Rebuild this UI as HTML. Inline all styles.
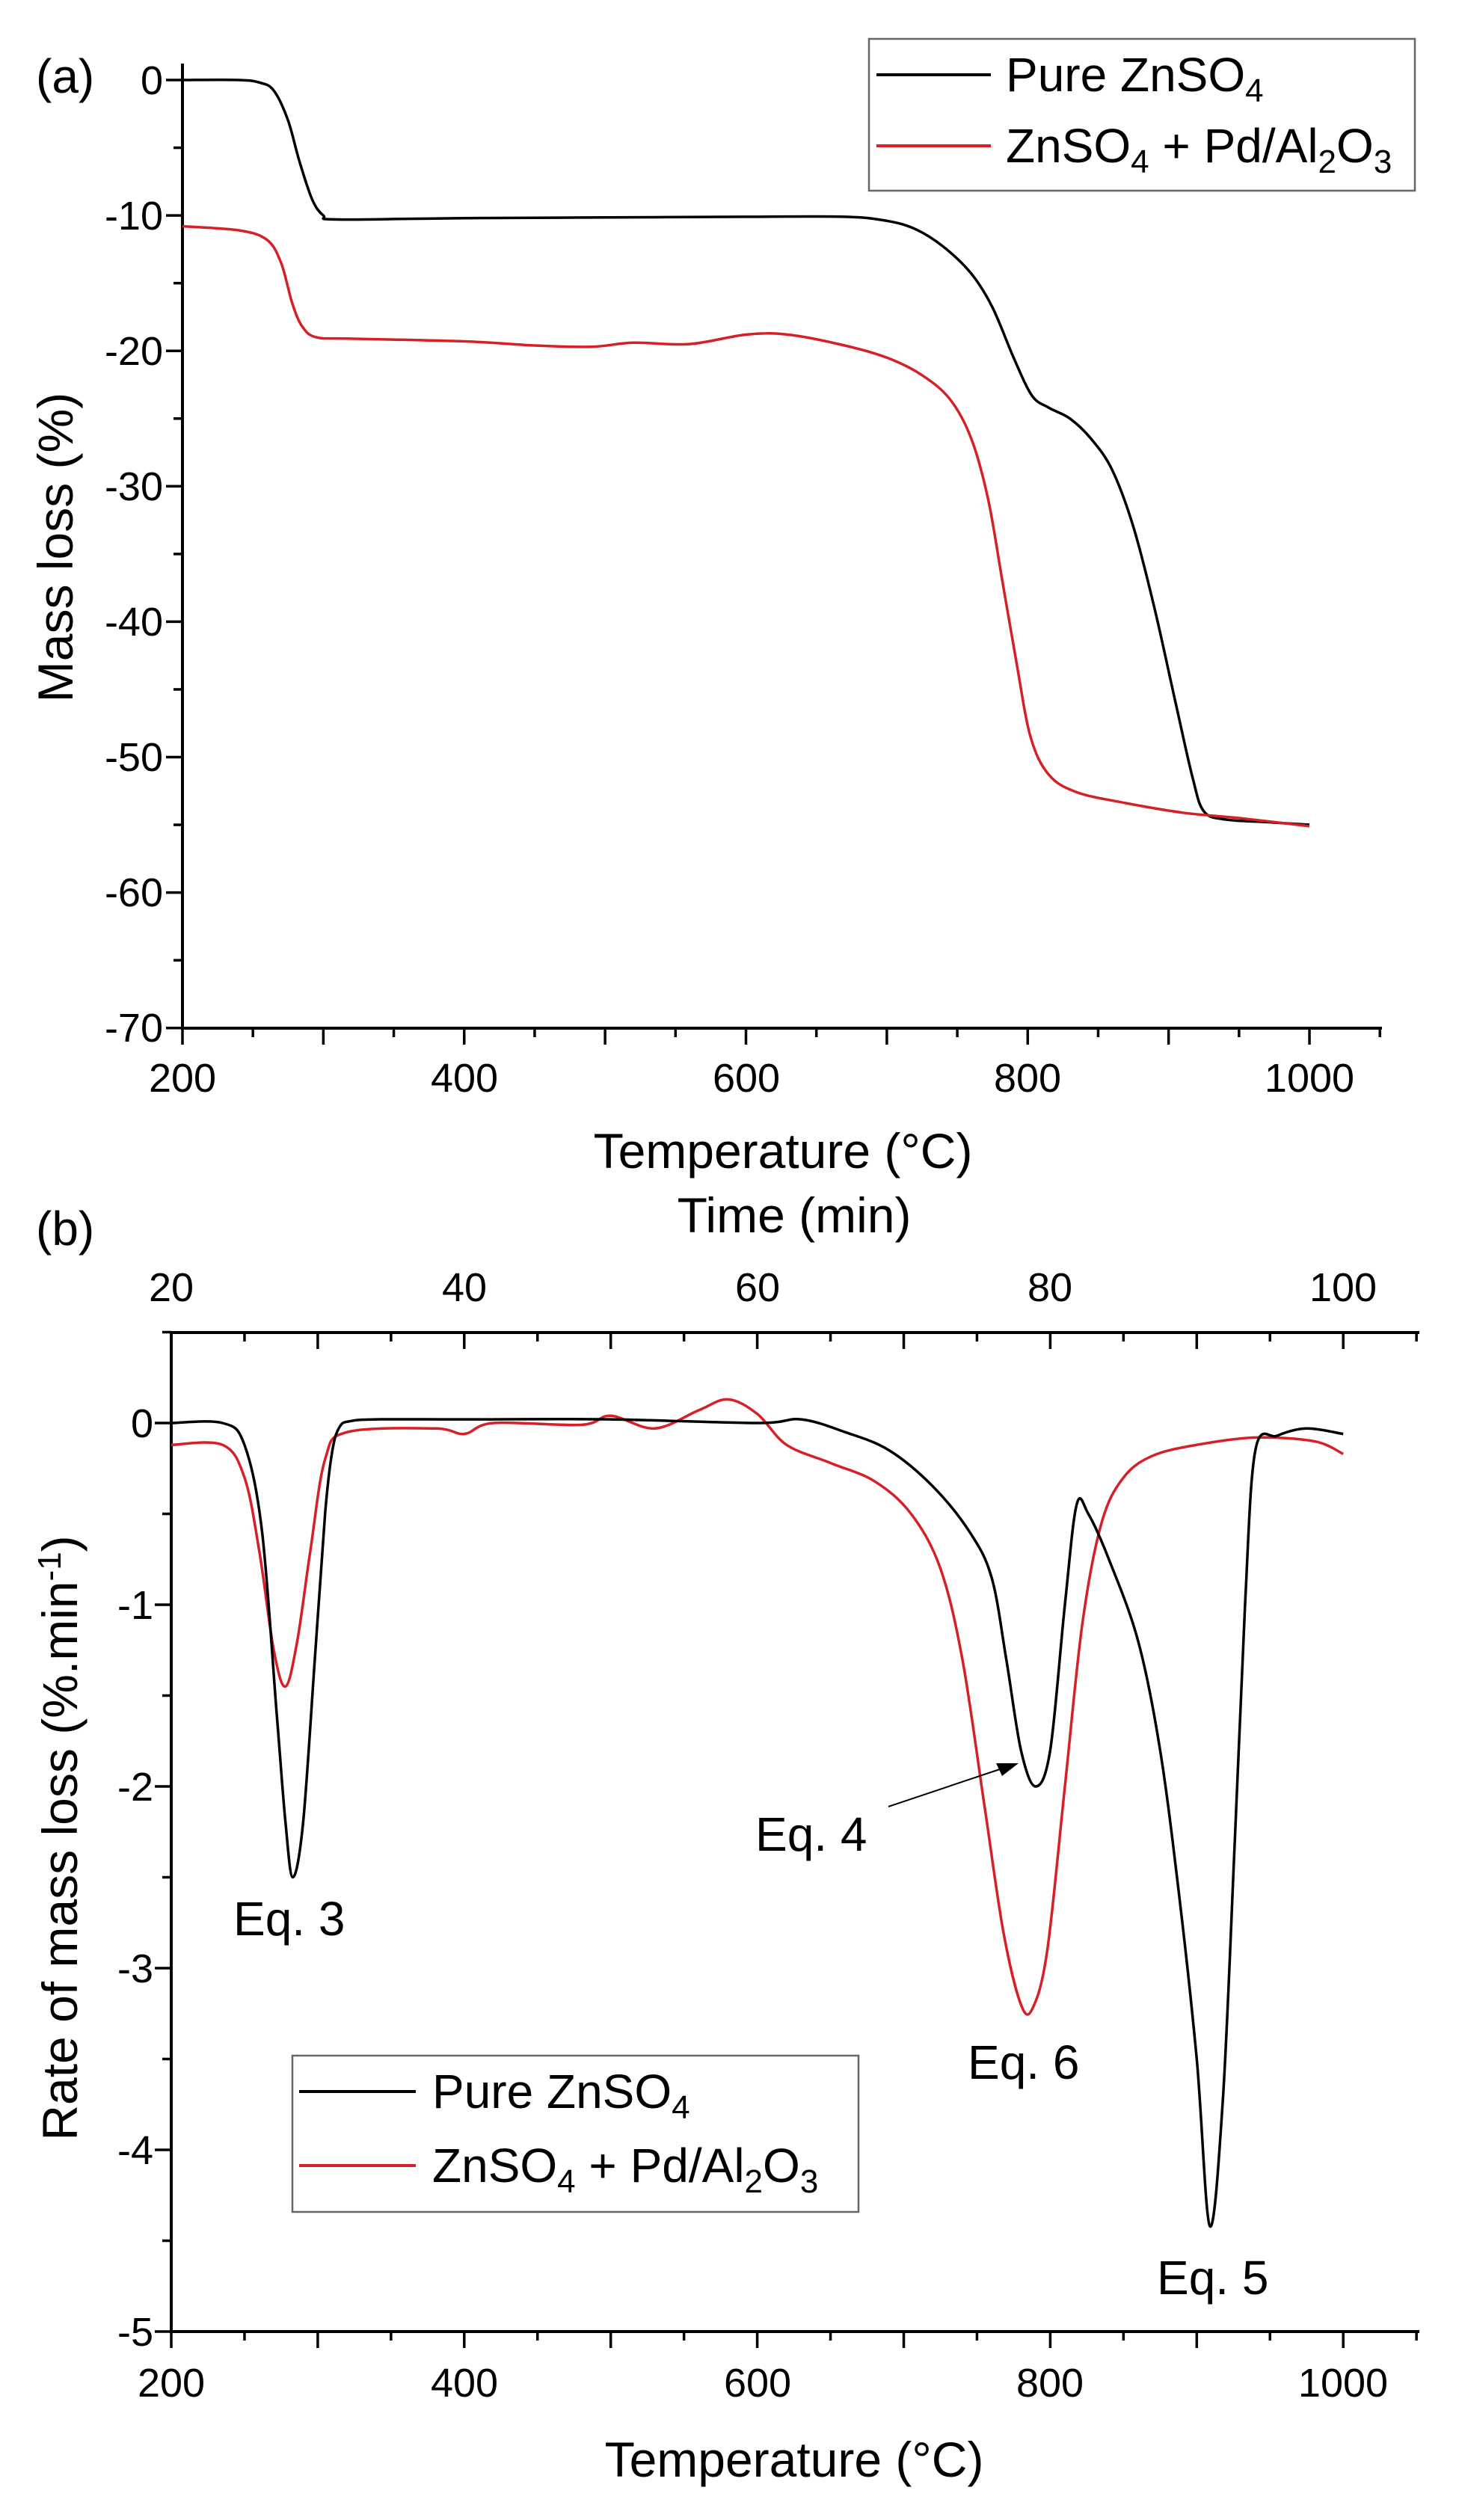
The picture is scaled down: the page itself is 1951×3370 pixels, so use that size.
<!DOCTYPE html>
<html><head><meta charset="utf-8"><style>
html,body{margin:0;padding:0;background:#fff}
svg{display:block}
text{font-family:"Liberation Sans",Arial,sans-serif;fill:#000}
</style></head><body>
<svg id="s" width="1951" height="3370" viewBox="0 0 1951 3370" xmlns="http://www.w3.org/2000/svg">
<g id="g"></g>
<text x="48" y="124" font-size="64">(a)</text>
<g font-size="54" text-anchor="end">
<text x="218" y="126">0</text><text x="218" y="307">-10</text><text x="218" y="488">-20</text>
<text x="218" y="669">-30</text><text x="218" y="850">-40</text><text x="218" y="1031">-50</text>
<text x="218" y="1212">-60</text><text x="218" y="1393">-70</text>
</g>
<g font-size="54" text-anchor="middle">
<text x="244" y="1460">200</text><text x="621" y="1460">400</text><text x="998" y="1460">600</text>
<text x="1374" y="1460">800</text><text x="1751" y="1460">1000</text>
</g>
<text x="1047" y="1562" font-size="66" text-anchor="middle">Temperature (°C)</text>
<text x="75" y="732" font-size="66" text-anchor="middle" transform="rotate(-90 75 732)" dy="22">Mass loss (%)</text>
<rect x="1162" y="52" width="730" height="203" fill="none" stroke="#666" stroke-width="2.5"/>
<line x1="1172" y1="100" x2="1325" y2="100" stroke="#000" stroke-width="4"/>
<line x1="1172" y1="195" x2="1325" y2="195" stroke="#d62027" stroke-width="4"/>
<text x="1345" y="122" font-size="64">Pure ZnSO<tspan font-size="44" dy="14">4</tspan></text>
<text x="1345" y="217" font-size="64">ZnSO<tspan font-size="44" dy="14">4</tspan><tspan dy="-14"> + Pd/Al</tspan><tspan font-size="44" dy="14">2</tspan><tspan dy="-14">O</tspan><tspan font-size="44" dy="14">3</tspan></text>
<text x="48" y="1665" font-size="64">(b)</text>
<text x="1062" y="1648" font-size="66" text-anchor="middle">Time (min)</text>
<g font-size="54" text-anchor="middle">
<text x="229" y="1740">20</text><text x="621" y="1740">40</text><text x="1013" y="1740">60</text>
<text x="1404" y="1740">80</text><text x="1796" y="1740">100</text>
<text x="229" y="3205">200</text><text x="621" y="3205">400</text><text x="1013" y="3205">600</text>
<text x="1404" y="3205">800</text><text x="1796" y="3205">1000</text>
</g>
<g font-size="54" text-anchor="end">
<text x="205" y="1922">0</text><text x="205" y="2165">-1</text><text x="205" y="2408">-2</text>
<text x="205" y="2651">-3</text><text x="205" y="2894">-4</text><text x="205" y="3137">-5</text>
</g>
<text x="1062" y="3312" font-size="66" text-anchor="middle">Temperature (°C)</text>
<text x="81" y="2458" font-size="66" text-anchor="middle" transform="rotate(-90 81 2458)" dy="22">Rate of mass loss (%.min<tspan font-size="44" dy="-22">-1</tspan><tspan dy="22">)</tspan></text>
<g font-size="64">
<text x="312" y="2588">Eq. 3</text>
<text x="1010" y="2475">Eq. 4</text>
<text x="1294" y="2780">Eq. 6</text>
<text x="1547" y="3068">Eq. 5</text>
</g>
<line x1="1188" y1="2416" x2="1340" y2="2365" stroke="#000" stroke-width="2"/>
<polygon points="1362,2358 1332,2358 1340,2375" fill="#000"/>
<rect x="391" y="2749" width="757" height="209" fill="#fff" stroke="#666" stroke-width="2.5"/>
<line x1="400" y1="2797" x2="556" y2="2797" stroke="#000" stroke-width="4"/>
<line x1="400" y1="2896" x2="556" y2="2896" stroke="#d62027" stroke-width="4"/>
<text x="578" y="2819" font-size="64">Pure ZnSO<tspan font-size="44" dy="14">4</tspan></text>
<text x="578" y="2918" font-size="64">ZnSO<tspan font-size="44" dy="14">4</tspan><tspan dy="-14"> + Pd/Al</tspan><tspan font-size="44" dy="14">2</tspan><tspan dy="-14">O</tspan><tspan font-size="44" dy="14">3</tspan></text>
</svg>
<script>
var g=document.getElementById('g'),NS='http://www.w3.org/2000/svg';
function el(t,a){var e=document.createElementNS(NS,t);for(var k in a)e.setAttribute(k,a[k]);g.appendChild(e);return e;}
function ln(x1,y1,x2,y2,w){el('line',{x1:x1,y1:y1,x2:x2,y2:y2,stroke:'#000','stroke-width':w||4});}
var ax=function(t){return 244+(t-200)*1.8838;}, ay=function(v){return 107-v*18.11;};
ln(244,85,244,1377);ln(242,1375,1848,1375);
for(var v=0;v>=-70;v-=5){var y=ay(v);ln(244,y,v%10==0?222:232,y,3.5);}
for(var t=200;t<=1050;t+=50){var x=ax(t);ln(x,1375,x,t%100==0?1397:1387,3.5);}
var bx=function(t){return 229+(t-200)*1.959;}, by=function(v){return 1903-v*243;};
ln(229,1780,229,3120);ln(227,3118,1898,3118);ln(227,1782,1898,1782);
for(var v=0.5;v>=-5;v-=0.5){var y=by(v);ln(229,y,v%1==0?207:217,y,3.5);}
for(var t=200;t<=1050;t+=50){var x=bx(t);ln(x,3118,x,t%100==0?3140:3130,3.5);ln(x,1782,x,t%100==0?1804:1794,3.5);}
function path(pts,fx,fy,col){
 var P=pts.map(function(p){return [fx(p[0]),fy(p[1])];});
 var d='M'+P[0][0].toFixed(1)+' '+P[0][1].toFixed(1);
 for(var i=0;i<P.length-1;i++){var p0=P[i-1]||P[i],p1=P[i],p2=P[i+1],p3=P[i+2]||P[i+1];
  var c1x=p1[0]+(p2[0]-p0[0])/6,c1y=p1[1]+(p2[1]-p0[1])/6,c2x=p2[0]-(p3[0]-p1[0])/6,c2y=p2[1]-(p3[1]-p1[1])/6;
  d+='C'+c1x.toFixed(1)+' '+c1y.toFixed(1)+' '+c2x.toFixed(1)+' '+c2y.toFixed(1)+' '+p2[0].toFixed(1)+' '+p2[1].toFixed(1);}
 el('path',{d:d,fill:'none',stroke:col,'stroke-width':3.5,'stroke-linejoin':'round'});
}
var aK=[[200,0],[240,0],[255,-0.2],[265,-0.8],[275,-3],[283,-6],[292,-8.8],[300,-10],[310,-10.3],[400,-10.2],[500,-10.15],[600,-10.1],[670,-10.1],[700,-10.4],[720,-11],[740,-12.3],[760,-14.3],[775,-16.8],[790,-20.5],[803,-23.3],[815,-24.2],[830,-25],[845,-26.5],[860,-28.8],[875,-33],[890,-39],[905,-46],[917,-51.5],[925,-54],[940,-54.6],[970,-54.8],[1000,-55]];
var aR=[[200,-10.8],[240,-11.1],[260,-11.8],[270,-13.5],[278,-16.5],[285,-18.2],[295,-19],[320,-19.1],[400,-19.3],[450,-19.6],[490,-19.7],[520,-19.4],[560,-19.5],[600,-18.8],[630,-18.8],[670,-19.6],[700,-20.5],[725,-21.8],[745,-23.6],[760,-26.5],[772,-31],[782,-37],[792,-43],[802,-48.5],[815,-51.3],[835,-52.6],[870,-53.4],[910,-54.1],[950,-54.5],[1000,-55.1]];
path(aK,ax,ay,'#000');path(aR,ax,ay,'#d62027');
var bK=[[200,0],[235,0],[250,-0.12],[262,-0.6],[272,-1.6],[278,-2.2],[283,-2.5],[290,-2.2],[298,-1.3],[305,-0.5],[310,-0.15],[315,-0.02],[322,0.01],[340,0.02],[400,0.02],[500,0.02],[600,0.0],[630,0.02],[660,-0.05],[690,-0.15],[720,-0.35],[745,-0.6],[760,-0.85],[770,-1.3],[780,-1.8],[790,-2.0],[800,-1.8],[810,-1.0],[818,-0.45],[826,-0.5],[840,-0.75],[860,-1.2],[875,-1.8],[888,-2.6],[900,-3.5],[909,-4.42],[918,-3.7],[926,-2.3],[933,-1.0],[940,-0.15],[955,-0.07],[975,-0.03],[1000,-0.06]];
var bR=[[200,-0.12],[235,-0.12],[250,-0.3],[260,-0.7],[270,-1.25],[278,-1.45],[286,-1.2],[295,-0.7],[305,-0.2],[320,-0.05],[380,-0.03],[400,-0.06],[420,0],[480,-0.01],[500,0.04],[530,-0.03],[560,0.07],[580,0.13],[600,0.05],[620,-0.12],[650,-0.22],[680,-0.32],[705,-0.5],[725,-0.8],[740,-1.3],[755,-2.1],[768,-2.8],[780,-3.2],[788,-3.22],[798,-2.9],[810,-2.0],[822,-1.1],[835,-0.55],[850,-0.3],[870,-0.18],[900,-0.12],[940,-0.08],[980,-0.1],[1000,-0.17]];
path(bR,bx,by,'#d62027');path(bK,bx,by,'#000');
</script>
</body></html>
